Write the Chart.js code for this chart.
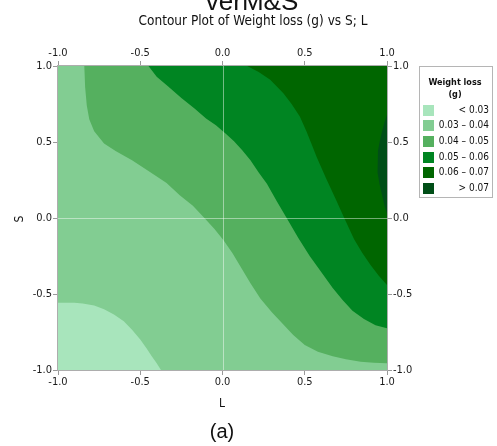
<!DOCTYPE html>
<html>
<head>
<meta charset="utf-8">
<script src="https://cdn.jsdelivr.net/npm/chart.js@4.4.1/dist/chart.umd.min.js"></script>
<style>
html,body{margin:0;padding:0;background:#fff;}
#wrap{position:relative;width:497px;height:446px;}
</style>
</head>
<body>
<div id="wrap"><canvas id="c" width="497" height="446"></canvas></div>
<script>
// ---- data ----
const axisTicks = [-1, -0.5, 0, 0.5, 1];
const levelLabels = ['< 0.03', '0.03 \u2013 0.04', '0.04 \u2013 0.05', '0.05 \u2013 0.06', '0.06 \u2013 0.07', '> 0.07'];
const levelColors = ['#a8e5bc', '#82cd92', '#55b05f', '#008522', '#006600', '#004e17'];
// contour lines (L, S)
const contour003 = [[-1,-0.557],[-0.9,-0.558],[-0.85,-0.562],[-0.78,-0.575],[-0.72,-0.60],[-0.66,-0.635],[-0.60,-0.68],[-0.55,-0.735],[-0.50,-0.80],[-0.46,-0.86],[-0.43,-0.91],[-0.40,-0.955],[-0.374,-1]];
const contour004 = [[-0.84,1],[-0.835,0.86],[-0.825,0.74],[-0.81,0.65],[-0.78,0.57],[-0.72,0.49],[-0.65,0.44],[-0.55,0.38],[-0.45,0.31],[-0.34,0.23],[-0.26,0.15],[-0.18,0.08],[-0.11,0.0],[-0.05,-0.07],[0.005,-0.145],[0.06,-0.23],[0.11,-0.32],[0.17,-0.43],[0.23,-0.53],[0.30,-0.62],[0.37,-0.70],[0.43,-0.77],[0.50,-0.835],[0.58,-0.88],[0.67,-0.91],[0.75,-0.93],[0.84,-0.945],[0.92,-0.952],[1,-0.956]];
const contour005 = [[-0.45,1],[-0.40,0.93],[-0.33,0.865],[-0.25,0.79],[-0.17,0.72],[-0.10,0.655],[-0.04,0.61],[0.02,0.555],[0.07,0.505],[0.12,0.445],[0.17,0.38],[0.22,0.30],[0.27,0.225],[0.33,0.11],[0.39,0.0],[0.46,-0.13],[0.53,-0.25],[0.60,-0.355],[0.67,-0.46],[0.73,-0.54],[0.79,-0.61],[0.86,-0.665],[0.93,-0.705],[1,-0.726]];
const contour006 = [[0.15,1],[0.22,0.96],[0.29,0.91],[0.37,0.82],[0.42,0.75],[0.47,0.667],[0.51,0.57],[0.54,0.49],[0.573,0.40],[0.63,0.26],[0.69,0.12],[0.74,0.0],[0.80,-0.14],[0.85,-0.23],[0.90,-0.31],[0.95,-0.38],[1,-0.44]];
const contour007 = [[1,0.68],[0.985,0.63],[0.97,0.57],[0.955,0.50],[0.945,0.44],[0.94,0.38],[0.945,0.30],[0.955,0.22],[0.97,0.15],[0.985,0.08],[1,0.03]];

const lo = axisTicks[0], hi = axisTicks[axisTicks.length - 1];
const toPts = arr => arr.map(p => ({x: p[0], y: p[1]}));
const regions = [
  toPts([[lo,lo],[hi,lo],[hi,hi],[lo,hi]]),
  toPts(contour003.concat([[hi,lo],[hi,hi],[lo,hi]])),
  toPts(contour004.concat([[hi,hi]])),
  toPts(contour005.concat([[hi,hi]])),
  toPts(contour006.concat([[hi,hi]])),
  toPts(contour007)
];

const FF = "'Liberation Sans Narrow', 'DejaVu Sans Condensed', 'Arial Narrow', sans-serif";

const datasets = regions.map((pts, i) => ({
  label: levelLabels[i],
  data: pts,
  order: regions.length - i,
  showLine: true,
  fill: 'shape',
  backgroundColor: levelColors[i],
  borderWidth: 0,
  borderColor: 'rgba(0,0,0,0)',
  pointRadius: 0,
  tension: 0
}));

function axisCfg(position, size, isX) {
  return {
    type: 'linear',
    position: position,
    min: lo, max: hi,
    afterBuildTicks: s => { s.ticks = axisTicks.map(v => ({value: v})); },
    afterFit: s => { if (isX) s.height = size; else s.width = size; },
    ticks: {
      callback: v => Number(v).toFixed(1),
      font: {family: FF, size: 11},
      color: '#1a1a1a',
      padding: 1,
      maxRotation: 0,
      autoSkip: false
    },
    grid: {drawOnChartArea: false, drawTicks: true, tickLength: 5, color: '#9a9a9a', lineWidth: 1},
    border: {display: true, color: '#adadad', width: 2}
  };
}

const overlay = {
  id: 'overlay',
  afterDatasetsDraw(chart) {
    const ctx = chart.ctx, a = chart.chartArea;
    const xs = chart.scales.x, ys = chart.scales.y;
    ctx.save();
    ctx.strokeStyle = 'rgba(255,255,255,0.45)';
    ctx.lineWidth = 1;
    const x0 = Math.round(xs.getPixelForValue(0)) + 0.5;
    const y0 = Math.round(ys.getPixelForValue(0)) + 0.5;
    ctx.beginPath();
    ctx.moveTo(x0, a.top); ctx.lineTo(x0, a.bottom);
    ctx.moveTo(a.left, y0); ctx.lineTo(a.right, y0);
    ctx.stroke();
    ctx.restore();
  },
  afterDraw(chart) {
    const ctx = chart.ctx;
    ctx.save();
    ctx.fillStyle = '#111';
    // clipped heading at top
    ctx.font = "26px 'Liberation Sans', Arial, sans-serif";
    ctx.textAlign = 'center';
    ctx.textBaseline = 'alphabetic';
    ctx.fillText('verM&S', 252, 10);
    // title
    ctx.font = "13.5px " + FF;
    ctx.textBaseline = 'middle';
    ctx.fillText('Contour Plot of Weight loss (g) vs S; L', 253, 21);
    // axis titles
    ctx.font = "12px " + FF;
    ctx.fillText('L', 222, 404);
    ctx.save();
    ctx.translate(20, 219);
    ctx.rotate(-Math.PI / 2);
    ctx.fillText('S', 0, 0);
    ctx.restore();
    ctx.font = "20px 'Liberation Sans', Arial, sans-serif";
    ctx.fillText('(a)', 222, 432);
    // legend
    ctx.strokeStyle = '#b5b5b5';
    ctx.lineWidth = 1;
    ctx.strokeRect(419.5, 66.5, 73, 131);
    ctx.font = "bold 9px " + FF;
    ctx.fillText('Weight loss', 455, 83);
    ctx.fillText('(g)', 455, 95);
    ctx.font = "10px " + FF;
    ctx.textAlign = 'right';
    for (let i = 0; i < levelLabels.length; i++) {
      const cy = 110 + i * 15.7;
      ctx.fillStyle = levelColors[i];
      ctx.fillRect(423, Math.round(cy - 5.5), 11, 11);
      ctx.fillStyle = '#111';
      ctx.fillText(levelLabels[i], 489, cy);
    }
    ctx.restore();
  }
};

new Chart(document.getElementById('c'), {
  type: 'scatter',
  data: {datasets: datasets},
  options: {
    responsive: false,
    animation: false,
    devicePixelRatio: 1,
    layout: {padding: 0},
    plugins: {legend: {display: false}, title: {display: false}, tooltip: {enabled: false}},
    scales: {
      x: axisCfg('bottom', 76, true),
      x2: axisCfg('top', 66, true),
      y: axisCfg('left', 58, false),
      y2: axisCfg('right', 110, false)
    }
  },
  plugins: [overlay]
});
</script>
</body>
</html>
